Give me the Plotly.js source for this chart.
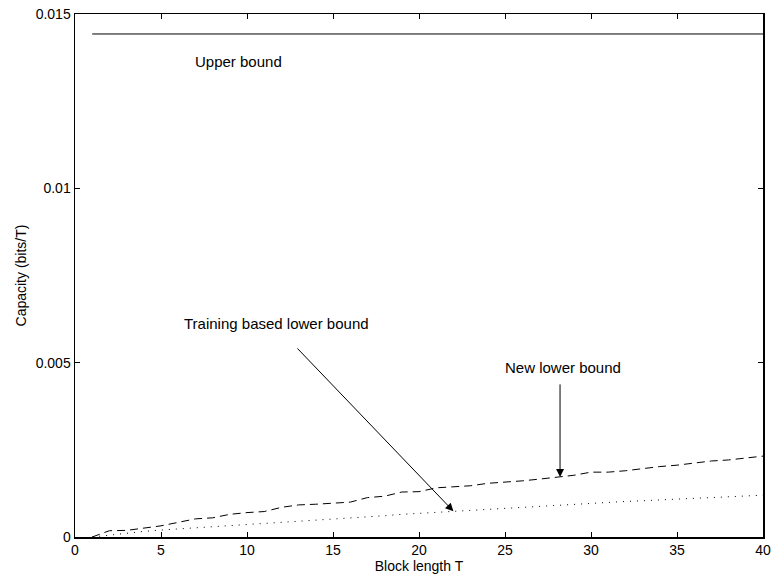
<!DOCTYPE html>
<html>
<head>
<meta charset="utf-8">
<script src="https://cdn.plot.ly/plotly-3.0.1.min.js"></script>
<style>html,body{margin:0;padding:0;background:#fff;}#chart{width:774px;height:580px;}</style>
</head>
<body>
<div id="chart"></div>
<script>
// Block length T
const blockLength = [1,2,3,4,5,6,7,8,9,10,11,12,13,14,15,16,17,18,19,20,21,22,23,24,25,26,27,28,29,30,31,32,33,34,35,36,37,38,39,40];
// Upper bound (constant)
const upperBoundX = [1, 40];
const upperBoundY = [0.014427, 0.014427];
// New lower bound (dashed)
const newLowerBound = [0, 0.00018, 0.00019, 0.00025, 0.00032, 0.00042, 0.00052, 0.00055, 0.00065, 0.0007,
  0.00073, 0.00085, 0.00092, 0.00094, 0.00098, 0.001, 0.00113, 0.00117, 0.00129, 0.0013,
  0.00141, 0.00144, 0.00147, 0.00154, 0.00157, 0.00161, 0.00166, 0.00171, 0.00177, 0.00186,
  0.00186, 0.0019, 0.00197, 0.00202, 0.00206, 0.00212, 0.00218, 0.00221, 0.00227, 0.00232];
// Training based lower bound (dotted)
const trainingLowerBound = [0, 0.00006, 0.00011, 0.00016, 0.0002, 0.00023, 0.00026, 0.0003, 0.00033, 0.00036,
  0.00039, 0.00042, 0.00045, 0.00048, 0.00051, 0.00054, 0.00058, 0.00061, 0.00065, 0.00068,
  0.00071, 0.00074, 0.00077, 0.0008, 0.00083, 0.00086, 0.00089, 0.00091, 0.00094, 0.00097,
  0.00099, 0.00102, 0.00104, 0.00107, 0.00109, 0.00111, 0.00113, 0.00116, 0.00118, 0.0012];

const xTicks = [0,5,10,15,20,25,30,35,40];
const yTicks = [0, 0.005, 0.01, 0.015];
const yTickText = ['0', '0.005', '0.01', '0.015'];

const font = {family: 'Liberation Sans, Arial, sans-serif', size: 14, color: '#000'};
const annFont = {family: 'Liberation Sans, Arial, sans-serif', size: 15, color: '#000'};

const traces = [
  {x: upperBoundX, y: upperBoundY, mode: 'lines', line: {color: '#000', width: 1}, hoverinfo: 'skip'},
  {x: blockLength, y: newLowerBound, mode: 'lines', line: {color: '#000', width: 1, dash: '8px,5px'}, hoverinfo: 'skip'},
  {x: blockLength, y: trainingLowerBound, mode: 'lines', line: {color: '#000', width: 1, dash: '1px,6px'}, hoverinfo: 'skip'}
];

const layout = {
  width: 774, height: 580,
  margin: {l: 75, r: 11, t: 14, b: 43},
  paper_bgcolor: '#fff', plot_bgcolor: '#fff',
  showlegend: false,
  font: font,
  xaxis: {
    range: [0, 40], tickvals: xTicks, ticks: 'inside', ticklen: 5, tickcolor: '#000',
    showline: true, linecolor: '#000', linewidth: 1.5, mirror: 'ticks', showgrid: false, zeroline: false,
    tickfont: font,
    title: {text: 'Block length T', font: font, standoff: 3}
  },
  yaxis: {
    range: [0, 0.015], tickvals: yTicks, ticktext: yTickText, ticks: 'inside', ticklen: 5, tickcolor: '#000',
    showline: true, linecolor: '#000', linewidth: 1.5, mirror: 'ticks', showgrid: false, zeroline: false,
    tickfont: font,
    title: {text: 'Capacity (bits/T)', font: font, standoff: 6}
  },
  annotations: [
    {x: 9.5, y: 0.01365, xref: 'x', yref: 'y', text: 'Upper bound', showarrow: false, font: annFont},
    {x: 11.7, y: 0.00612, xref: 'x', yref: 'y', text: 'Training based lower bound', showarrow: false, font: annFont},
    {x: 28.4, y: 0.00487, xref: 'x', yref: 'y', text: 'New lower bound', showarrow: false, font: annFont},
    {x: 22, y: 0.00074, xref: 'x', yref: 'y', axref: 'x', ayref: 'y', ax: 12.85, ay: 0.00545,
     text: '', showarrow: true, arrowhead: 2, arrowsize: 1.6, arrowwidth: 1, arrowcolor: '#000'},
    {x: 28.2, y: 0.00172, xref: 'x', yref: 'y', axref: 'x', ayref: 'y', ax: 28.2, ay: 0.00442,
     text: '', showarrow: true, arrowhead: 2, arrowsize: 1.6, arrowwidth: 1, arrowcolor: '#000'}
  ]
};

Plotly.newPlot('chart', traces, layout, {displayModeBar: false, staticPlot: true});
</script>
</body>
</html>
